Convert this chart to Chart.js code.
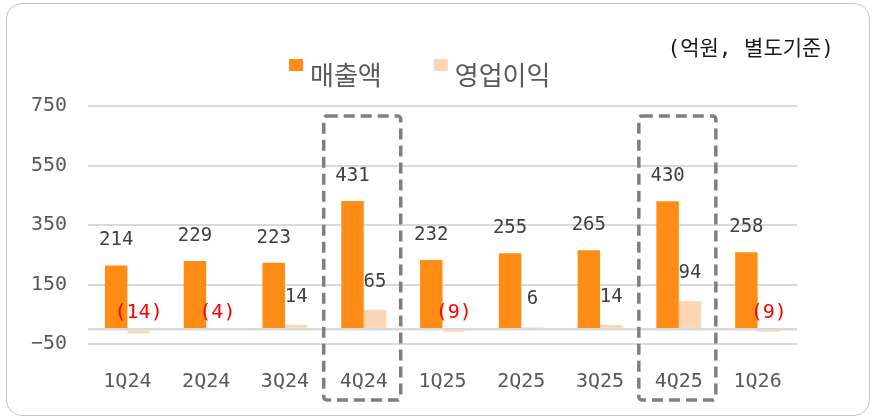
<!DOCTYPE html>
<html>
<head>
<meta charset="utf-8">
<script src="https://cdn.jsdelivr.net/npm/chart.js@4.4.1/dist/chart.umd.min.js"></script>
<style>
    body { margin: 0; background: #fff; }
    .wrap { position: relative; width: 875px; height: 418px; }
    .frame {
        position: absolute; left: 6px; top: 3px; width: 862px; height: 411px;
        border: 1.5px solid #c4c4c4; border-radius: 16px; pointer-events: none;
    }
    canvas { position: absolute; left: 0; top: 0; }
</style>
</head>
<body>
<div class="wrap">
    <canvas id="myChart" width="875" height="418"></canvas>
    <div class="frame"></div>
</div>
<script>
const quarters = ['1Q24', '2Q24', '3Q24', '4Q24', '1Q25', '2Q25', '3Q25', '4Q25', '1Q26'];
const sales = [214, 229, 223, 431, 232, 255, 265, 430, 258];
const operatingProfit = [-14, -4, 14, 65, -9, 6, 14, 94, -9];
const highlighted = ['4Q24', '4Q25'];
const unitText = '(억원, 별도기준)';

const monoFont = '"DejaVu Sans Mono", "Noto Sans CJK KR", monospace';

// 막대 위 숫자, 음수는 괄호 + 빨간색
const valueLabels = {
    id: 'valueLabels',
    afterDatasetsDraw(chart) {
        const ctx = chart.ctx;
        const zeroY = chart.scales.y.getPixelForValue(0);
        ctx.save();
        ctx.textAlign = 'center';
        ctx.textBaseline = 'middle';
        chart.data.datasets.forEach((ds, i) => {
            chart.getDatasetMeta(i).data.forEach((bar, j) => {
                const v = ds.data[j];
                if (v < 0) {
                    ctx.font = '20px ' + monoFont;
                    ctx.fillStyle = '#ff0000';
                    ctx.fillText(`(${-v})`, bar.x, zeroY - 16);
                } else {
                    ctx.font = '19px ' + monoFont;
                    ctx.fillStyle = '#404040';
                    ctx.fillText(`${v}`, bar.x, bar.y - (i === 0 ? 25 : 28));
                }
            });
        });
        ctx.restore();
    }
};

// 강조 분기 점선 박스
const highlightBoxes = {
    id: 'highlightBoxes',
    afterDraw(chart) {
        const ctx = chart.ctx;
        const x = chart.scales.x;
        const top = chart.scales.y.getPixelForValue(750) + 10;
        const bottom = chart.chartArea.bottom + 56;
        ctx.save();
        ctx.strokeStyle = '#7f7f7f';
        ctx.lineWidth = 3.5;
        ctx.setLineDash([11, 6]);
        highlighted.forEach((q) => {
            const cx = x.getPixelForValue(quarters.indexOf(q));
            ctx.beginPath();
            ctx.roundRect(cx - 40, top, 77, bottom - top, 3);
            ctx.stroke();
        });
        ctx.restore();
    }
};

// 범례 + 단위
const topTexts = {
    id: 'topTexts',
    afterDraw(chart) {
        const ctx = chart.ctx;
        ctx.save();
        ctx.textBaseline = 'middle';
        ctx.font = '26px "Noto Sans CJK KR", sans-serif';
        let lx = 289;
        chart.data.datasets.forEach((ds) => {
            ctx.fillStyle = ds.backgroundColor;
            ctx.fillRect(lx, 59, 14, 12);
            ctx.fillStyle = '#595959';
            ctx.textAlign = 'left';
            ctx.fillText(ds.label, lx + 21, 75);
            lx += 21 + ctx.measureText(ds.label).width + 52;
        });
        ctx.font = '21px ' + monoFont;
        ctx.fillStyle = '#1a1a1a';
        ctx.textAlign = 'right';
        ctx.fillText(unitText, 834, 50);
        ctx.restore();
    }
};

const data = {
    labels: quarters,
    datasets: [{
        label: '매출액',
        backgroundColor: '#ff8c14',
        data: sales,
    }, {
        label: '영업이익',
        backgroundColor: '#fcd5b5',
        data: operatingProfit,
    }]
};

const config = {
    type: 'bar',
    data: data,
    options: {
        responsive: false,
        animation: false,
        layout: { padding: { top: 106, right: 78, left: 0, bottom: 0 } },
        datasets: { bar: { categoryPercentage: 0.57, barPercentage: 1 } },
        plugins: {
            legend: { display: false },
            tooltip: { enabled: false },
        },
        scales: {
            x: {
                grid: { display: false },
                border: { display: false },
                ticks: { color: '#595959', font: { family: monoFont, size: 20 }, padding: 18 },
                afterFit: (s) => { s.height = 74; },
            },
            y: {
                min: -50,
                max: 750,
                border: { display: false },
                grid: {
                    color: '#d9d9d9',
                    drawTicks: false,
                    lineWidth: (c) => (c.tick && c.tick.value === 0 ? 2.5 : 2),
                },
                afterBuildTicks: (s) => {
                    s.ticks.push({ value: 0 });
                    s.ticks.sort((a, b) => a.value - b.value);
                },
                ticks: {
                    stepSize: 200,
                    color: '#595959',
                    padding: 21,
                    font: { family: monoFont, size: 20 },
                    callback: (v) => (v === 0 ? '' : v < 0 ? '−' + Math.abs(v) : v),
                },
                afterFit: (s) => { s.width = 88; },
            }
        }
    },
    plugins: [valueLabels, highlightBoxes, topTexts]
};

window.onload = function () {
    new Chart(document.getElementById('myChart'), config);
};
</script>
</body>
</html>
